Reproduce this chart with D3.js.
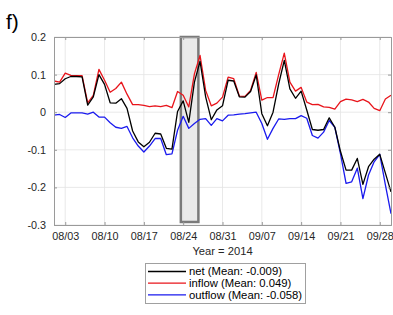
<!DOCTYPE html>
<html>
<head>
<meta charset="utf-8">
<script src="https://cdn.jsdelivr.net/npm/d3@7"></script>
<style>
    body { margin: 0; background: #fff; }
    svg { display: block; font-family: "Liberation Sans", Arial, sans-serif; }
</style>
</head>
<body>
<div id="chart"></div>
<script>
// Daily values, 2014-08-01 .. 2014-09-30
const startDate = new Date(2014, 7, 1);
const endDate = new Date(2014, 8, 30);

const net = [
    0.074, 0.076, 0.089, 0.095, 0.095, 0.094, 0.019, 0.041, 0.100, 0.074,
    0.025, 0.024, 0.036, 0.010, -0.050, -0.079, -0.092, -0.080, -0.056, -0.058,
    -0.096, -0.098, 0.002, 0.030, -0.027, 0.080, 0.135, 0.041, -0.020, 0.006,
    0.017, 0.085, 0.083, 0.041, 0.040, 0.055, 0.099, -0.004, -0.036, 0.000,
    0.075, 0.138, 0.062, 0.037, 0.056, 0.006, -0.046, -0.048, -0.046, -0.015,
    -0.040, -0.104, -0.154, -0.154, -0.123, -0.192, -0.145, -0.125, -0.112, -0.162,
    -0.212
];
const inflow = [
    0.083, 0.080, 0.104, 0.098, 0.097, 0.097, 0.025, 0.045, 0.114, 0.085,
    0.053, 0.063, 0.080, 0.048, 0.020, 0.020, 0.018, 0.015, 0.017, 0.015,
    0.018, 0.012, 0.055, 0.045, 0.014, 0.102, 0.151, 0.058, 0.017, 0.024,
    0.040, 0.093, 0.089, 0.043, 0.042, 0.058, 0.106, 0.032, 0.039, 0.039,
    0.100, 0.157, 0.080, 0.056, 0.066, 0.027, 0.020, 0.021, 0.014, 0.013,
    0.008, 0.028, 0.035, 0.033, 0.028, 0.034, 0.027, 0.010, 0.004, 0.035,
    0.045
];
const outflow = [
    -0.008, -0.006, -0.014, -0.002, -0.002, -0.002, -0.005, 0.000, -0.013, -0.013,
    -0.028, -0.040, -0.043, -0.038, -0.068, -0.090, -0.106, -0.090, -0.070, -0.070,
    -0.113, -0.111, -0.048, -0.011, -0.043, -0.030, -0.019, -0.017, -0.035, -0.017,
    -0.023, -0.008, -0.007, -0.005, -0.004, -0.002, 0.000, -0.030, -0.072, -0.043,
    -0.018, -0.019, -0.017, -0.017, -0.009, -0.016, -0.062, -0.069, -0.053, -0.022,
    -0.040, -0.110, -0.189, -0.185, -0.149, -0.230, -0.167, -0.132, -0.112, -0.193,
    -0.270
];

const seriesNames = ["net", "inflow", "outflow"];
const seriesColors = ["#000000", "#e8141b", "#1a1aee"];
const seriesMeans = ["-0.009", "0.049", "-0.058"];

const yTicks = [-0.3, -0.2, -0.1, 0, 0.1, 0.2];
const yTickLabels = ["-0.3", "-0.2", "-0.1", "0", "0.1", "0.2"];
const xTicks = [
    new Date(2014, 7, 3), new Date(2014, 7, 10), new Date(2014, 7, 17), new Date(2014, 7, 24),
    new Date(2014, 7, 31), new Date(2014, 8, 7), new Date(2014, 8, 14), new Date(2014, 8, 21),
    new Date(2014, 8, 28)
];

// shaded event window
const highlightStart = new Date(2014, 7, 23, 14);
const highlightEnd = new Date(2014, 7, 26, 17);
const highlightBottom = -0.292;

const dates = d3.timeDays(startDate, d3.timeDay.offset(endDate, 1));

const width = 393, height = 315;
const margin = {left: 54, right: 2, top: 37, bottom: 90};

const svg = d3.select("#chart")
    .append("svg")
    .attr("width", width)
    .attr("height", height);

const x = d3.scaleTime()
    .domain([startDate, endDate])
    .range([margin.left, width - margin.right]);

const y = d3.scaleLinear()
    .domain([-0.3, 0.2])
    .range([height - margin.bottom, margin.top]);

const x0 = margin.left, x1 = width - margin.right;
const y0 = height - margin.bottom, y1 = margin.top;

// Grid
const grid = svg.append("g").attr("stroke", "#e3e3e3").attr("stroke-width", 0.8);
grid.selectAll("line.v").data(xTicks).join("line")
    .attr("x1", d => x(d)).attr("x2", d => x(d))
    .attr("y1", y0).attr("y2", y1);
grid.selectAll("line.h").data(yTicks).join("line")
    .attr("x1", x0).attr("x2", x1)
    .attr("y1", d => y(d)).attr("y2", d => y(d));

// Highlight window
svg.append("rect")
    .attr("x", x(highlightStart))
    .attr("y", y(0.2))
    .attr("width", x(highlightEnd) - x(highlightStart))
    .attr("height", y(highlightBottom) - y(0.2))
    .attr("fill", "#e6e6e6")
    .attr("fill-opacity", 0.85)
    .attr("stroke", "#7a7a7a")
    .attr("stroke-width", 2.5);

// Lines
svg.append("clipPath").attr("id", "plotclip")
    .append("rect").attr("x", x0).attr("y", y1).attr("width", x1 - x0).attr("height", y0 - y1);

const line = d3.line()
    .x((d, i) => x(dates[i]))
    .y(d => y(d));

const seriesData = [net, inflow, outflow];
// draw outflow and inflow first, net on top
[2, 1, 0].forEach(k => {
    svg.append("path")
        .attr("clip-path", "url(#plotclip)")
        .attr("d", line(seriesData[k]))
        .attr("fill", "none")
        .attr("stroke", seriesColors[k])
        .attr("stroke-width", 1.3)
        .attr("stroke-linejoin", "round");
});

// Axes
const axisColor = "#9a9a9a";
const tickLen = 3;
const bottomAxis = svg.append("g")
    .attr("transform", `translate(0,${y0})`)
    .call(d3.axisBottom(x).tickValues(xTicks).tickFormat(d3.timeFormat("%m/%d")).tickSize(-tickLen).tickPadding(7));
const leftAxis = svg.append("g")
    .attr("transform", `translate(${x0},0)`)
    .call(d3.axisLeft(y).tickValues(yTicks).tickFormat((d, i) => yTickLabels[i]).tickSize(-tickLen).tickPadding(8));
const topAxis = svg.append("g")
    .attr("transform", `translate(0,${y1})`)
    .call(d3.axisTop(x).tickValues(xTicks).tickFormat("").tickSize(-tickLen));
const rightAxis = svg.append("g")
    .attr("transform", `translate(${x1},0)`)
    .call(d3.axisRight(y).tickValues(yTicks).tickFormat("").tickSize(-tickLen));

[bottomAxis, leftAxis, topAxis, rightAxis].forEach(a => {
    a.select(".domain").attr("stroke", axisColor).attr("stroke-width", 1);
    a.selectAll(".tick line").attr("stroke", axisColor);
    a.selectAll(".tick text")
        .attr("fill", "#262626")
        .attr("font-size", 10.8)
        .attr("font-family", "'Liberation Sans', Arial, sans-serif");
});

// X label
svg.append("text")
    .attr("x", (x0 + x1) / 2)
    .attr("y", 255)
    .attr("text-anchor", "middle")
    .attr("font-size", 11.2)
    .attr("fill", "#262626")
    .text("Year = 2014");

// Panel label
svg.append("text")
    .attr("x", 6)
    .attr("y", 29)
    .attr("font-size", 21)
    .attr("fill", "#000")
    .text("f)");

// Legend
const legend = svg.append("g");
legend.append("rect")
    .attr("x", 145.5).attr("y", 263.5)
    .attr("width", 160).attr("height", 40)
    .attr("fill", "#fff")
    .attr("stroke", "#a0a0a0")
    .attr("stroke-width", 1);

seriesNames.forEach((name, i) => {
    const ly = 271.5 + i * 11.7;
    legend.append("line")
        .attr("x1", 148).attr("x2", 186)
        .attr("y1", ly).attr("y2", ly)
        .attr("stroke", seriesColors[i])
        .attr("stroke-width", 1.3);
    legend.append("text")
        .attr("x", 189)
        .attr("y", ly)
        .attr("dy", "0.35em")
        .attr("font-size", 11.3)
        .attr("fill", "#000")
        .text(`${name} (Mean: ${seriesMeans[i]})`);
});
</script>
</body>
</html>
